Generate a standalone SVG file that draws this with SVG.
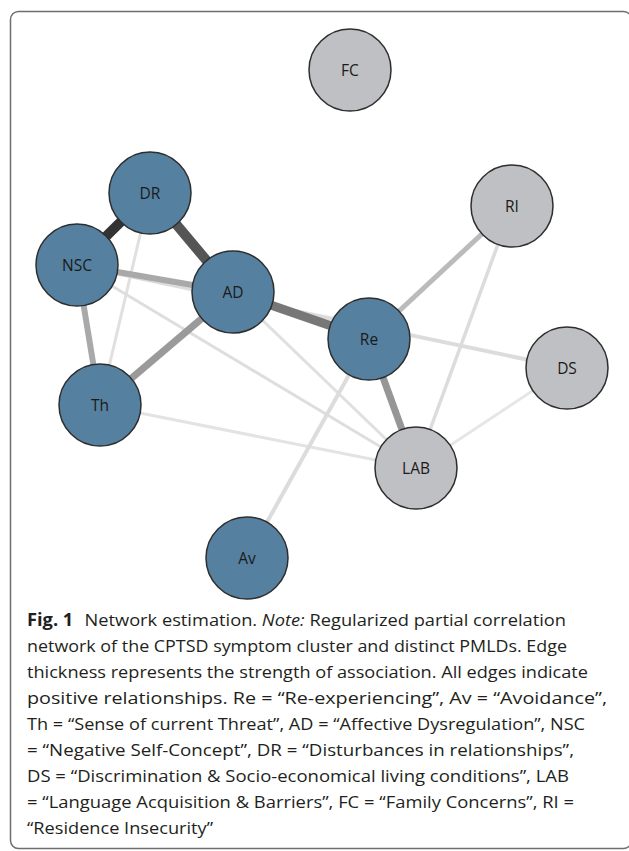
<svg xmlns="http://www.w3.org/2000/svg" width="629" height="851" viewBox="0 0 629 851">
<style>
.frame{fill:none;stroke:#6e6e6e;stroke-width:1.5}
.node circle{stroke:#2e2e2e;stroke-width:1.5}
.sym circle{fill:#55809f}
.pmld circle{fill:#bfc0c4}
.node text{font-family:"Open Sans","Noto Sans",sans-serif;font-size:15.5px;fill:#1a1a1a;text-anchor:middle;dominant-baseline:central}
.edges line{stroke-linecap:butt}
.cap{font-family:"Open Sans","Noto Sans",sans-serif;font-size:17px;fill:#231f20}
</style>
<rect class="frame" x="10.5" y="11.5" width="621" height="837" rx="8"/>
<g id="edges" class="edges">
<line x1="77" y1="265" x2="567" y2="368" stroke="#dcdcdc" stroke-width="4"/>
<line x1="150" y1="193" x2="100" y2="405" stroke="#e0e0e0" stroke-width="3"/>
<line x1="77" y1="265" x2="416" y2="468" stroke="#dedede" stroke-width="3"/>
<line x1="233" y1="292" x2="416" y2="468" stroke="#e0e0e0" stroke-width="3"/>
<line x1="100" y1="405" x2="416" y2="468" stroke="#e3e3e3" stroke-width="3"/>
<line x1="369" y1="339" x2="247" y2="558" stroke="#dcdcdc" stroke-width="4"/>
<line x1="512" y1="206" x2="416" y2="468" stroke="#dcdcdc" stroke-width="3.5"/>
<line x1="567" y1="368" x2="416" y2="468" stroke="#e6e6e6" stroke-width="3"/>
<line x1="369" y1="339" x2="512" y2="206" stroke="#bbbbbb" stroke-width="5"/>
<line x1="77" y1="265" x2="233" y2="292" stroke="#a9a9a9" stroke-width="6"/>
<line x1="77" y1="265" x2="100" y2="405" stroke="#a9a9a9" stroke-width="6"/>
<line x1="100" y1="405" x2="233" y2="292" stroke="#9a9a9a" stroke-width="7"/>
<line x1="369" y1="339" x2="416" y2="468" stroke="#969696" stroke-width="7"/>
<line x1="233" y1="292" x2="369" y2="339" stroke="#777777" stroke-width="9"/>
<line x1="150" y1="193" x2="233" y2="292" stroke="#555555" stroke-width="10"/>
<line x1="77" y1="265" x2="150" y2="193" stroke="#333333" stroke-width="10"/>
</g>
<g id="FC" class="node pmld"><circle cx="350" cy="70" r="41"/><text x="350" y="70">FC</text></g>
<g id="DR" class="node sym"><circle cx="150" cy="193" r="41"/><text x="150" y="193">DR</text></g>
<g id="NSC" class="node sym"><circle cx="77" cy="265" r="41"/><text x="77" y="265">NSC</text></g>
<g id="AD" class="node sym"><circle cx="233" cy="292" r="41"/><text x="233" y="292">AD</text></g>
<g id="Re" class="node sym"><circle cx="369" cy="339" r="41"/><text x="369" y="339">Re</text></g>
<g id="RI" class="node pmld"><circle cx="512" cy="206" r="41"/><text x="512" y="206">RI</text></g>
<g id="DS" class="node pmld"><circle cx="567" cy="368" r="41"/><text x="567" y="368">DS</text></g>
<g id="Th" class="node sym"><circle cx="100" cy="405" r="41"/><text x="100" y="405">Th</text></g>
<g id="LAB" class="node pmld"><circle cx="416" cy="468" r="41"/><text x="416" y="468">LAB</text></g>
<g id="Av" class="node sym"><circle cx="247" cy="558" r="41"/><text x="247" y="558">Av</text></g>
<g id="caption" class="cap">
<text x="27" y="626" textLength="539" lengthAdjust="spacingAndGlyphs"><tspan font-weight="bold">Fig. 1</tspan><tspan dx="6"> Network estimation. </tspan><tspan font-style="italic">Note:</tspan> Regularized partial correlation</text>
<text x="27" y="652" textLength="540" lengthAdjust="spacingAndGlyphs">network of the CPTSD symptom cluster and distinct PMLDs. Edge</text>
<text x="27" y="678" textLength="561" lengthAdjust="spacingAndGlyphs">thickness represents the strength of association. All edges indicate</text>
<text x="27" y="704" textLength="580" lengthAdjust="spacingAndGlyphs">positive relationships. Re = “Re-experiencing”, Av = “Avoidance”,</text>
<text x="27" y="730" textLength="558" lengthAdjust="spacingAndGlyphs">Th = “Sense of current Threat”, AD = “Affective Dysregulation”, NSC</text>
<text x="27" y="756" textLength="547" lengthAdjust="spacingAndGlyphs">= “Negative Self-Concept”, DR = “Disturbances in relationships”,</text>
<text x="27" y="782" textLength="542" lengthAdjust="spacingAndGlyphs">DS = “Discrimination &amp; Socio-economical living conditions”, LAB</text>
<text x="27" y="808" textLength="547" lengthAdjust="spacingAndGlyphs">= “Language Acquisition &amp; Barriers”, FC = “Family Concerns”, RI =</text>
<text x="27" y="834" textLength="186" lengthAdjust="spacingAndGlyphs">“Residence Insecurity”</text>
</g>
</svg>
